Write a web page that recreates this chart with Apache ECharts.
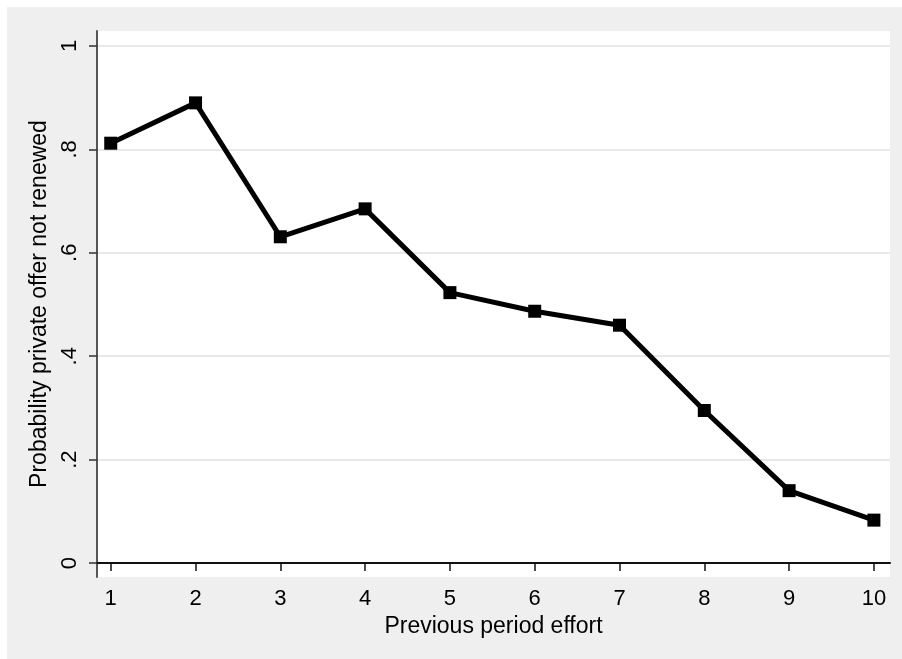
<!DOCTYPE html>
<html>
<head>
<meta charset="utf-8">
<script src="https://cdn.jsdelivr.net/npm/echarts@6/dist/echarts.min.js"></script>
<style>
    html, body { margin: 0; padding: 0; background: #fff; }
    #chart { position: absolute; left: 7px; top: 7px; width: 895px; height: 652px; }
</style>
</head>
<body>
<div id="chart"></div>
<script>
// effort levels on the x axis
let efforts = [1, 2, 3, 4, 5, 6, 7, 8, 9, 10]
// probability that the private offer is not renewed
let notRenewed = [0.812, 0.890, 0.631, 0.685, 0.523, 0.487, 0.460, 0.295, 0.140, 0.083]

let yTicks = [0, 0.2, 0.4, 0.6, 0.8, 1]
let yTickLabels = ["0", ".2", ".4", ".6", ".8", "1"]

let font = "'Liberation Sans', Arial, sans-serif"

let myChart = echarts.init(document.getElementById("chart"))

let data = efforts.map((e, i) => [e, notRenewed[i]])

let option = {
    backgroundColor: "#efefef",
    animation: false,
    grid: {
        left: 90,
        right: 12,
        top: 24,
        bottom: 82,
        show: true,
        backgroundColor: "#fff",
        borderWidth: 0
    },
    xAxis: {
        type: "value",
        min: 0.838,
        max: 10.19,
        name: "Previous period effort",
        nameLocation: "middle",
        nameGap: 34,
        nameTextStyle: { fontFamily: font, fontSize: 23, color: "#000" },
        axisLine: { show: true, lineStyle: { color: "#111", width: 2 } },
        axisTick: { show: true, length: 8, customValues: efforts, lineStyle: { color: "#111", width: 1.5 } },
        axisLabel: { customValues: efforts, margin: 11, fontFamily: font, fontSize: 22, color: "#000" },
        splitLine: { show: false }
    },
    yAxis: {
        type: "value",
        min: -0.027,
        max: 1.029,
        name: "Probability private offer not renewed",
        nameLocation: "middle",
        nameRotate: 90,
        nameGap: 42,
        nameTextStyle: { fontFamily: font, fontSize: 23, color: "#000" },
        axisLine: { show: true, lineStyle: { color: "#555", width: 2 } },
        axisTick: { show: true, length: 8, customValues: yTicks, lineStyle: { color: "#333", width: 1.5 } },
        axisLabel: {
            customValues: yTicks,
            rotate: 90,
            margin: 16,
            fontFamily: font,
            fontSize: 22,
            color: "#000",
            formatter: v => {
                let i = yTicks.findIndex(t => Math.abs(t - v) < 1e-6)
                return i >= 0 ? yTickLabels[i] : ""
            }
        },
        splitLine: { show: true, lineStyle: { color: "#e8e8e8", width: 2 } }
    },
    series: [{
        type: "line",
        data: data,
        symbol: "rect",
        symbolSize: 13,
        lineStyle: { color: "#000", width: 5 },
        itemStyle: { color: "#000" }
    }]
}
myChart.setOption(option)
</script>
</body>
</html>
